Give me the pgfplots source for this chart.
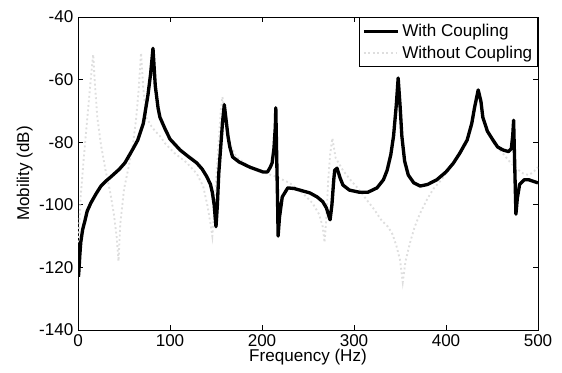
\documentclass[border=0pt]{standalone}
\usepackage{pgfplots}
\pgfplotsset{compat=1.18}
\usepackage{fontspec}
\setmainfont{Liberation Sans}
\begin{document}
\begin{tikzpicture}
\begin{axis}[name=ax,
  scale only axis, width=345pt, height=234.75pt,
  xmin=0, xmax=500, ymin=-140, ymax=-40,
  xtick={0,100,...,500}, ytick={-140,-120,...,-40},
  /pgf/number format/assume math mode=true,
  tick label style={font=\fontsize{12.8}{15}\selectfont},
  label style={font=\fontsize{12.8}{15}\selectfont},
  xlabel={Frequency (Hz)}, ylabel={Mobility (dB)},
  xlabel style={yshift=5pt},
  ylabel style={yshift=-2pt},
  axis line style={line width=0.6pt},
  tick style={line width=0.6pt, black},
  major tick length=4pt,
  reverse legend,
  legend style={at={(1,1)}, anchor=north east, draw=black, line width=0.6pt,
    font=\fontsize{12.8}{15}\selectfont, inner xsep=2pt, inner ysep=3pt, row sep=1.5pt},
  legend cell align=left,
  legend image code/.code={\draw[#1] (0cm,0cm) -- (0.9cm,0cm);},
]
\addplot[color=black!13, dotted, line width=1.4pt] coordinates {
(0.5,-112) (3,-97) (6,-86) (9,-76) (12,-66) (14.5,-58) (16.5,-52) (18.5,-62)
(21,-72) (25,-81) (30,-89) (35,-96) (39,-103) (42,-110) (44,-118) (46,-106)
(50,-95) (55,-88) (60,-80) (63,-73) (66,-63) (68.5,-51.5) (71,-63) (74,-72)
(80,-75) (84,-76.5) (89,-78) (95,-80.5) (105,-83.5) (118,-86.5) (129,-90)
(136,-94) (141,-100.7) (144,-106) (146,-110) (148.5,-100) (151,-88) (153.5,-77)
(155.5,-69) (157,-65.5) (159,-70) (162,-77) (166,-81) (172,-84.7) (185,-87.5)
(200,-89.5) (215,-91) (230,-93) (245,-96.5) (255,-99.5) (262,-103) (266,-107)
(268,-112) (270,-104) (272,-92) (274,-84) (276.5,-78.7) (280,-85) (288,-89)
(296,-92) (305,-95) (314,-98.5) (322,-101.5) (330,-105) (337,-107) (342,-109.5)
(346,-113) (350,-117.6) (353,-124.7) (356,-118) (361,-112) (366,-107) (372,-102.6)
(379,-98.5) (386,-95) (395,-92) (405,-88) (415,-84) (423,-80) (428,-75) (431,-70)
(435,-64) (438,-68) (441,-73) (446,-77) (451,-80) (457,-82) (463,-84) (470,-86.5)
(477,-88.5) (484,-90) (490,-90.5) (495,-89.5) (500,-88)
};
\addlegendentry{Without Coupling}
\addplot[color=black, line width=2.5pt, line join=round] coordinates {
(0.5,-123) (1,-121) (2,-116) (3,-112) (5,-108) (7.6,-105) (10,-102) (14,-99.4)
(20,-96.3) (25,-94) (30,-92.5) (36,-91) (45,-88.6) (51,-86.6) (56.5,-83.8)
(60,-82) (65,-79.3) (71,-74) (76,-65) (79,-58) (81.5,-50) (84,-62) (87,-69)
(89,-72) (95,-76) (100,-79) (111,-82.5) (120,-84.6) (129,-86.6) (135,-88.6)
(140,-91) (144,-93.5) (146,-96) (148,-100) (150,-107) (151.5,-100) (153,-90)
(155,-82) (157,-74) (159,-68) (161,-73) (163,-78) (165,-81.5) (168,-84.7)
(175,-86.3) (187,-88) (201,-89.5) (206,-89.5) (209,-88) (211,-86.6) (213,-82)
(214.5,-75) (215,-69) (216,-85) (217,-100) (217.5,-110) (219,-104) (222,-97.5)
(228,-94.6) (235,-94.8) (252,-96.2) (260,-97.5) (266,-99) (270,-101) (274,-104.8)
(276,-100) (278,-92) (279,-89) (281.5,-88.3) (285,-91.5) (288,-93.7) (295,-95.3)
(306,-96) (315,-96) (325,-94.6) (332,-92) (336,-89) (340,-84) (343,-78) (346,-68)
(348,-59.5) (350,-68) (352,-78) (355,-86) (359,-90.5) (365,-93) (372,-94)
(380,-93.5) (390,-92) (400,-89.5) (408,-86.7) (415,-83.5) (423,-79.3) (428,-74)
(431,-69) (435,-63.3) (438,-67) (440,-72) (445,-76.5) (451,-79.3) (456,-81.5)
(462,-82.5) (468,-83) (471,-82) (472.5,-78) (473.5,-73) (474.5,-85) (476,-103)
(477.5,-98) (480,-93.5) (485,-92) (490,-92) (495,-92.5) (500,-93)
};
\addlegendentry{With Coupling}
\end{axis}
\path ([xshift=-58.5pt,yshift=-31.5pt]ax.south west) rectangle ([xshift=18pt,yshift=12.75pt]ax.north east);
\end{tikzpicture}
\end{document}
